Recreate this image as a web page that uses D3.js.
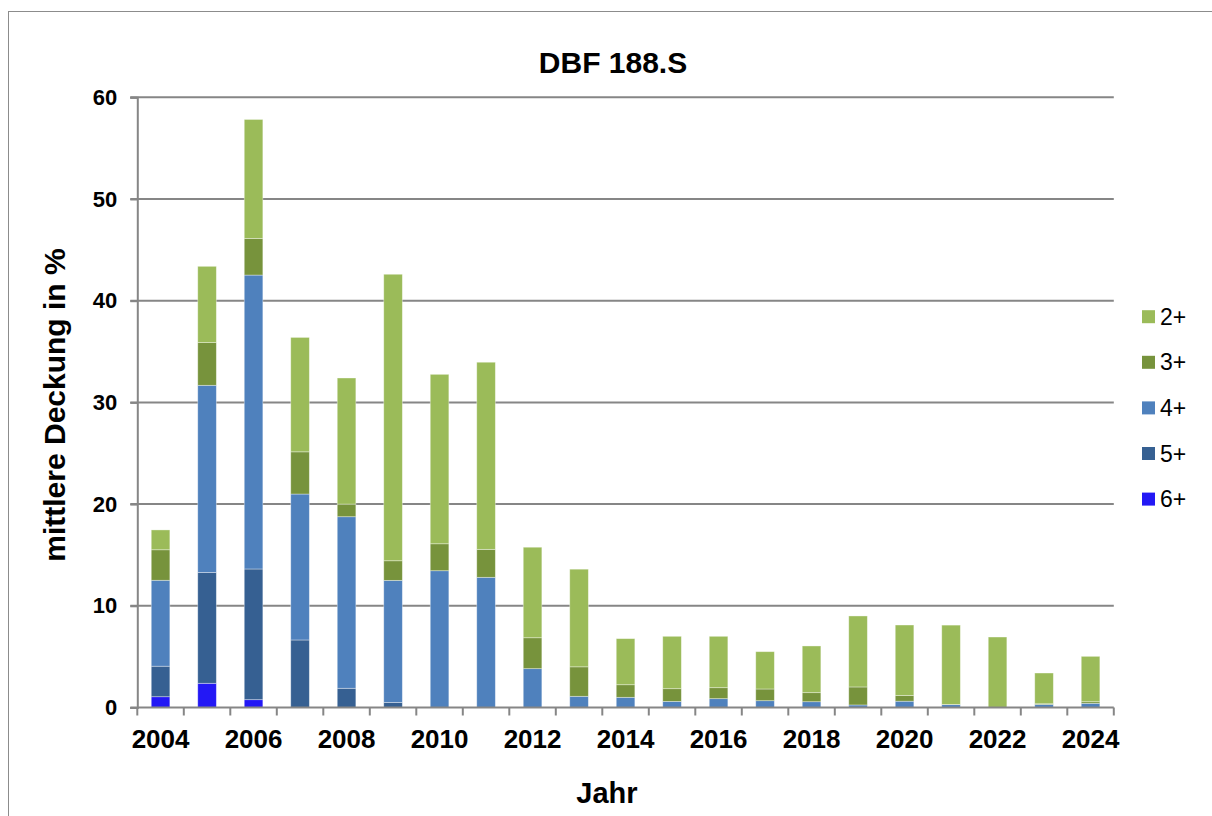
<!DOCTYPE html>
<html>
<head>
<meta charset="utf-8">
<script src="https://cdn.jsdelivr.net/npm/d3@7"></script>
<style>
  body { margin: 0; background: #fff; }
  text { font-family: "Liberation Sans", Arial, sans-serif; }
</style>
</head>
<body>
<div id="chart"></div>
<script>
var years = ["2004", "2005", "2006", "2007", "2008", "2009", "2010", "2011", "2012", "2013", "2014",
  "2015", "2016", "2017", "2018", "2019", "2020", "2021", "2022", "2023", "2024"];
var tickLabels = ["2004", "2006", "2008", "2010", "2012", "2014", "2016", "2018", "2020", "2022", "2024"];
var yTicks = [0, 10, 20, 30, 40, 50, 60];

// stacked from the bottom: 6+, 5+, 4+, 3+, 2+
var s6 = [1.06, 2.38, 0.77, 0, 0, 0, 0, 0, 0, 0, 0, 0, 0, 0, 0, 0, 0, 0, 0, 0, 0];
var s5 = [3.0, 10.9, 12.85, 6.64, 1.89, 0.5, 0, 0, 0, 0, 0, 0, 0, 0, 0, 0, 0, 0, 0, 0, 0];
var s4 = [8.45, 18.4, 28.9, 14.35, 16.87, 12.0, 13.45, 12.8, 3.82, 1.1, 1.0, 0.6, 0.87, 0.67, 0.57, 0.25, 0.62, 0.28, 0, 0.3, 0.41];
var s3 = [3.0, 4.2, 3.6, 4.15, 1.24, 1.93, 2.65, 2.75, 3.04, 2.9, 1.24, 1.25, 1.08, 1.15, 0.89, 1.77, 0.56, 0.02, 0, 0.07, 0.16];
var s2 = [1.95, 7.5, 11.7, 11.25, 12.4, 28.17, 16.66, 18.4, 8.9, 9.6, 4.53, 5.15, 5.05, 3.67, 4.59, 6.98, 6.93, 7.8, 6.93, 3.02, 4.46];

var seriesNames = ["6+", "5+", "4+", "3+", "2+"];
var seriesValues = [s6, s5, s4, s3, s2];
var colors = { "2+": "#9bbb59", "3+": "#77933c", "4+": "#4f81bd", "5+": "#366092", "6+": "#2318f5" };

var W = 1212, H = 816;
var x0 = 137.3, x1 = 1113.8, yTop = 97.3, yBot = 707.5;

var svg = d3.select("#chart").append("svg")
  .attr("width", W)
  .attr("height", H);

// outer frame
svg.append("rect")
  .attr("x", 8.5).attr("y", 11.5)
  .attr("width", 1210).attr("height", 820)
  .attr("fill", "none")
  .attr("stroke", "#8c8c8c")
  .attr("stroke-width", 1);

var x = d3.scaleBand().domain(years).range([x0, x1]).paddingInner(0.6).paddingOuter(0.3);
var y = d3.scaleLinear().domain([0, 60]).range([yBot, yTop]);

// gridlines
svg.append("g").selectAll("line")
  .data(yTicks.filter(function(d) { return d > 0; }))
  .enter().append("line")
  .attr("x1", x0 - 7).attr("x2", x1)
  .attr("y1", function(d) { return y(d); })
  .attr("y2", function(d) { return y(d); })
  .attr("stroke", "#868686")
  .attr("stroke-width", 2);

// stacked bars
var table = years.map(function(yr, i) {
  var row = { year: yr };
  seriesNames.forEach(function(n, k) { row[n] = seriesValues[k][i]; });
  return row;
});
var stack = d3.stack().keys(seriesNames)(table);

svg.append("g").selectAll("g")
  .data(stack)
  .enter().append("g")
  .attr("fill", function(d) { return colors[d.key]; })
  .selectAll("rect")
  .data(function(d) { return d; })
  .enter().append("rect")
  .attr("x", function(d) { return x(d.data.year); })
  .attr("width", x.bandwidth())
  .attr("y", function(d) { return y(d[1]); })
  .attr("height", function(d) { return Math.max(0, y(d[0]) - y(d[1])); })
  .attr("stroke", "rgba(255,255,255,0.45)")
  .attr("stroke-width", 0.8);

// y axis
var yAxis = svg.append("g")
  .attr("transform", "translate(" + x0 + ",0)")
  .call(d3.axisLeft(y).tickValues(yTicks).tickSize(7).tickPadding(13));
yAxis.select(".domain").attr("stroke", "#868686").attr("stroke-width", 2);
yAxis.selectAll(".tick line").attr("stroke", "#868686").attr("stroke-width", 2);
yAxis.selectAll(".tick text")
  .attr("fill", "#000")
  .style("font-size", "22px")
  .style("font-weight", "bold")
  .style("font-family", "'Liberation Sans', Arial, sans-serif");

// x axis: category boundaries as ticks
var step = x.step();
var bounds = d3.range(years.length + 1).map(function(i) { return x0 + i * step; });
svg.append("line")
  .attr("x1", x0 - 7).attr("x2", x1)
  .attr("y1", yBot).attr("y2", yBot)
  .attr("stroke", "#868686").attr("stroke-width", 2);
svg.append("g").selectAll("line")
  .data(bounds)
  .enter().append("line")
  .attr("x1", function(d) { return d; }).attr("x2", function(d) { return d; })
  .attr("y1", yBot).attr("y2", yBot + 8)
  .attr("stroke", "#868686").attr("stroke-width", 2);

svg.append("g").selectAll("text")
  .data(tickLabels)
  .enter().append("text")
  .attr("x", function(d) { return x(d) + x.bandwidth() / 2; })
  .attr("y", 748)
  .attr("text-anchor", "middle")
  .style("font-size", "26px")
  .style("font-weight", "bold")
  .text(function(d) { return d; });

// titles
svg.append("text")
  .attr("x", 613).attr("y", 73)
  .attr("text-anchor", "middle")
  .style("font-size", "30px")
  .style("font-weight", "bold")
  .text("DBF 188.S");

svg.append("text")
  .attr("x", 607).attr("y", 803)
  .attr("text-anchor", "middle")
  .style("font-size", "29px")
  .style("font-weight", "bold")
  .text("Jahr");

svg.append("text")
  .attr("transform", "translate(65,405) rotate(-90)")
  .attr("text-anchor", "middle")
  .style("font-size", "30px")
  .style("font-weight", "bold")
  .text("mittlere Deckung in %");

// legend
var legendOrder = ["2+", "3+", "4+", "5+", "6+"];
var legend = svg.append("g").selectAll("g")
  .data(legendOrder)
  .enter().append("g")
  .attr("transform", function(d, i) { return "translate(1142," + (316.7 + i * 45.6) + ")"; });
legend.append("rect")
  .attr("x", 0).attr("y", -6.5)
  .attr("width", 13).attr("height", 13)
  .attr("fill", function(d) { return colors[d]; });
legend.append("text")
  .attr("x", 18).attr("y", 8)
  .style("font-size", "23px")
  .text(function(d) { return d; });
</script>
</body>
</html>
